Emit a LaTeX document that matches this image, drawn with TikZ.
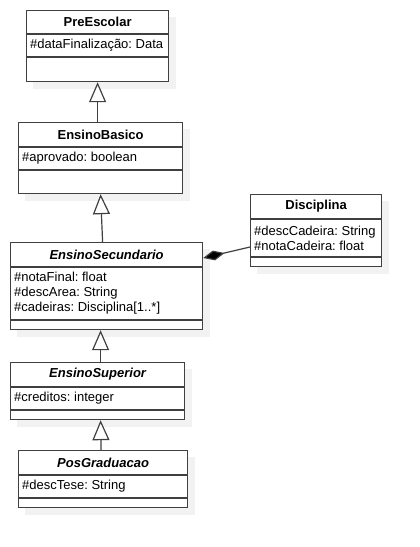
\documentclass[tikz,border=0pt]{standalone}
\usepackage{fontspec}
\setmainfont{Liberation Sans}
\usetikzlibrary{arrows.meta,positioning,backgrounds}
\tikzset{
  umlclass/.style={draw=black!75, line width=1.2pt, fill=white, anchor=north west, inner sep=0pt},
  umlname/.style={inner sep=0pt, font=\fontsize{13}{15}\selectfont\bfseries},
  umlattrs/.style={anchor=west, align=left, inner sep=4pt, font=\fontsize{13}{15}\selectfont\frenchspacing},
  umlline/.style={draw=black!75, line width=1.2pt},
  umlshadow/.style={fill=black!5},
  inherit/.style={draw=black!75, line width=1.2pt, -{Triangle[length=20pt,width=17pt,fill=white]}},
  compose/.style={draw=black!75, line width=1.2pt, -{Diamond[length=22pt,width=10pt,fill=black]}}
}

\begin{document}
\begin{tikzpicture}[x=1pt, y=-1pt]
  \useasboundingbox (0,0) rectangle (420,547);

  % PreEscolar
  \node[umlclass, minimum width=142pt, minimum height=71pt] (pre) at (26,10) {};
  \node[umlname] (preName) at ([yshift=-12pt]pre.north) {PreEscolar};
  \draw[umlline] ([yshift=-24pt]pre.north west) -- ([yshift=-24pt]pre.north east);
  \draw[umlline] ([yshift=-47pt]pre.north west) -- ([yshift=-47pt]pre.north east);
  \node[umlattrs] (preAttr) at ([yshift=-35.5pt]pre.north west) {\#dataFinalização: Data};

  % EnsinoBasico
  \node[umlclass, minimum width=164pt, minimum height=71pt] (basico) at (18,122) {};
  \node[umlname] (basicoName) at ([yshift=-12.5pt]basico.north) {EnsinoBasico};
  \draw[umlline] ([yshift=-25pt]basico.north west) -- ([yshift=-25pt]basico.north east);
  \draw[umlline] ([yshift=-48pt]basico.north west) -- ([yshift=-48pt]basico.north east);
  \node[umlattrs] (basicoAttr) at ([yshift=-36.5pt]basico.north west) {\#aprovado: boolean};

  % Disciplina
  \node[umlclass, minimum width=131pt, minimum height=72pt] (dis) at (250,194) {};
  \node[umlname] (disName) at ([yshift=-12.5pt]dis.north) {Disciplina};
  \draw[umlline] ([yshift=-25pt]dis.north west) -- ([yshift=-25pt]dis.north east);
  \draw[umlline] ([yshift=-63pt]dis.north west) -- ([yshift=-63pt]dis.north east);
  \node[umlattrs] (disAttr) at ([yshift=-44pt]dis.north west)
       {\#descCadeira: String\\\#notaCadeira: float};

  % EnsinoSecundario
  \node[umlclass, minimum width=192pt, minimum height=87pt] (sec) at (10,242) {};
  \node[umlname] (secName) at ([yshift=-12.5pt]sec.north) {\itshape EnsinoSecundario};
  \draw[umlline] ([yshift=-25pt]sec.north west) -- ([yshift=-25pt]sec.north east);
  \draw[umlline] ([yshift=-78pt]sec.north west) -- ([yshift=-78pt]sec.north east);
  \node[umlattrs] (secAttr) at ([yshift=-51.5pt]sec.north west)
       {\#notaFinal: float\\\#descArea: String\\\#cadeiras: Disciplina[1..*]};

  % EnsinoSuperior
  \node[umlclass, minimum width=174pt, minimum height=57pt] (sup) at (10,362) {};
  \node[umlname] (supName) at ([yshift=-12.5pt]sup.north) {\itshape EnsinoSuperior};
  \draw[umlline] ([yshift=-25pt]sup.north west) -- ([yshift=-25pt]sup.north east);
  \draw[umlline] ([yshift=-48pt]sup.north west) -- ([yshift=-48pt]sup.north east);
  \node[umlattrs] (supAttr) at ([yshift=-36.5pt]sup.north west) {\#creditos: integer};

  % PosGraduacao
  \node[umlclass, minimum width=169pt, minimum height=57pt] (pos) at (18,450) {};
  \node[umlname] (posName) at ([yshift=-12.5pt]pos.north) {\itshape PosGraduacao};
  \draw[umlline] ([yshift=-25pt]pos.north west) -- ([yshift=-25pt]pos.north east);
  \draw[umlline] ([yshift=-48pt]pos.north west) -- ([yshift=-48pt]pos.north east);
  \node[umlattrs] (posAttr) at ([yshift=-36.5pt]pos.north west) {\#descTese: String};

  % Shadows
  \begin{scope}[on background layer]
    \foreach \c in {pre, basico, dis, sec, sup, pos}
      \fill[umlshadow] ([shift={(7pt,-7pt)}]\c.north west) rectangle ([shift={(7pt,-7pt)}]\c.south east);
  \end{scope}

  % Generalizations
  \draw[inherit] (basico.north -| pre.south) -- (pre.south);
  \draw[inherit] ([xshift=-4pt]sec.north) -- (basico.south);
  \draw[inherit] ([xshift=3pt]sup.north) -- ([xshift=-6pt]sec.south);
  \draw[inherit] ([xshift=-2pt]pos.north) -- ([xshift=3pt]sup.south);

  % Composition
  \draw[compose] ([yshift=-53pt]dis.north west) -- ([yshift=-16pt]sec.north east);
\end{tikzpicture}
\end{document}
